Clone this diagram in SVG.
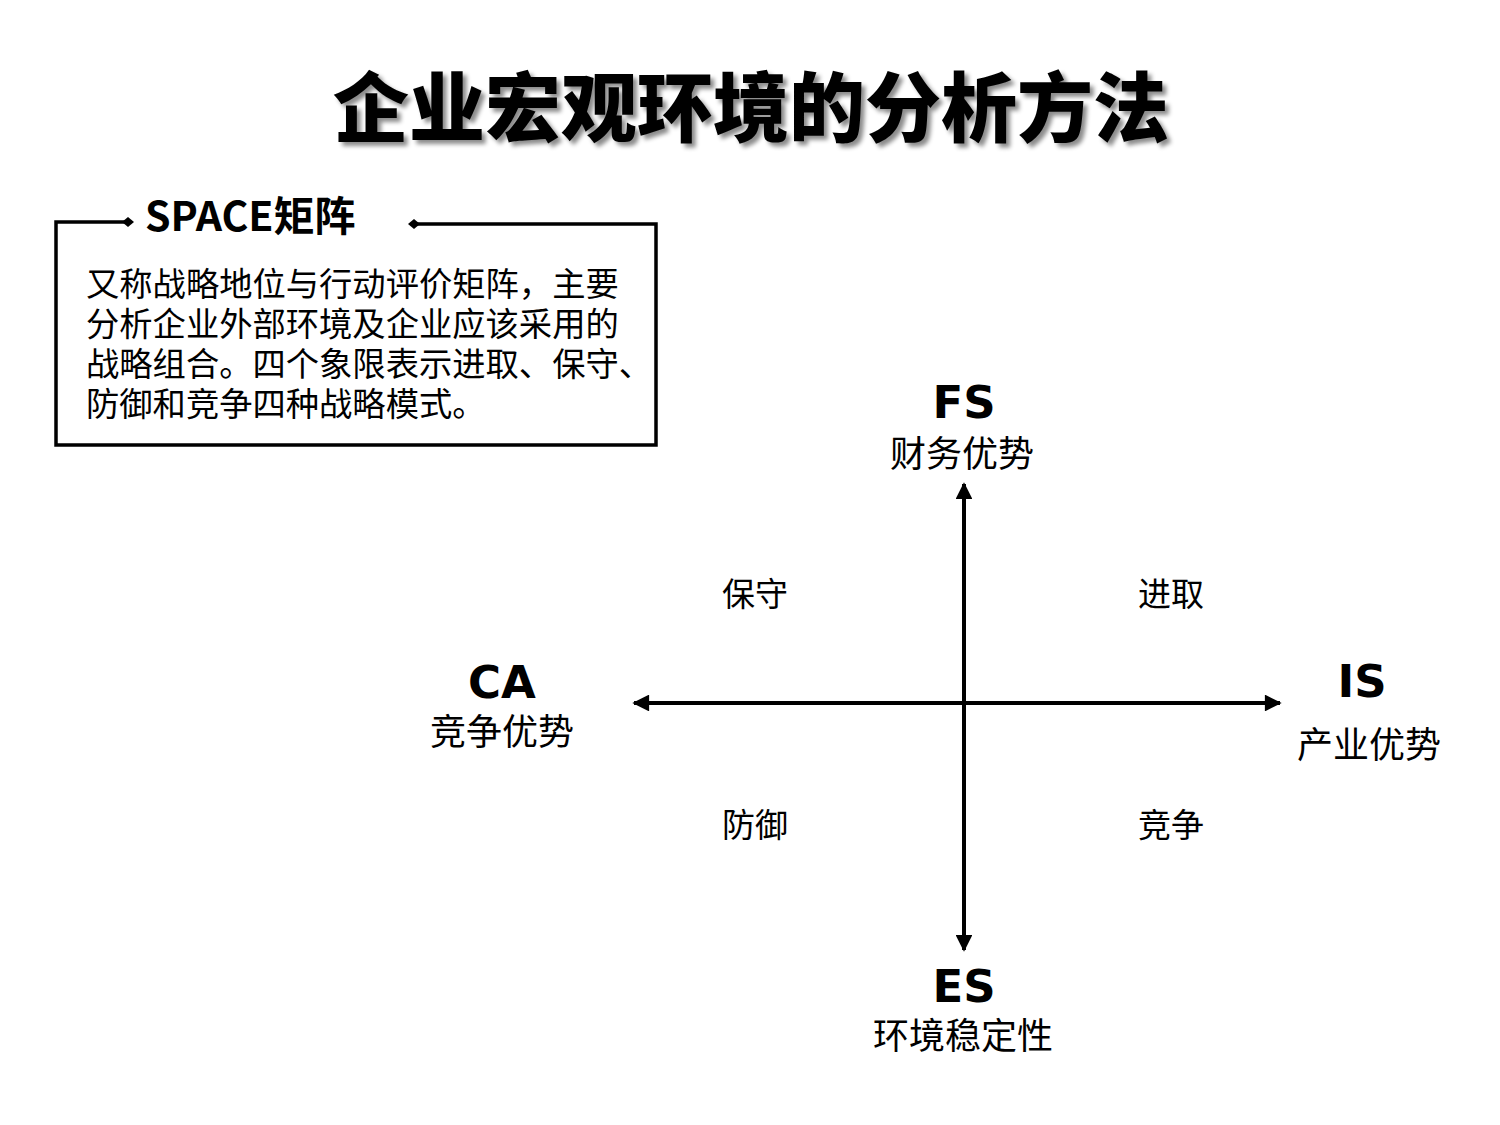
<svg xmlns="http://www.w3.org/2000/svg" width="1500" height="1125" viewBox="0 0 1500 1125">
<defs>
<style>
.cjk{font-family:"Noto Sans CJK SC","Noto Sans",sans-serif;fill:#000}
.lat{font-family:"DejaVu Sans","Noto Sans CJK SC",sans-serif;font-weight:bold;fill:#000}
.ax{stroke:#000;stroke-width:4;fill:none}
.frame{stroke:#000;stroke-width:3.5;fill:none}
</style>
<marker id="ah" viewBox="0 0 10 10" refX="9" refY="5" markerWidth="6" markerHeight="4.2" markerUnits="strokeWidth" orient="auto-start-reverse">
<path d="M0,0 L10,5 L0,10 z" fill="#000"/>
</marker>
<filter id="sh" x="-5%" y="-20%" width="110%" height="140%">
<feDropShadow dx="4" dy="4" stdDeviation="2" flood-color="#000" flood-opacity="0.45"/>
</filter>
</defs>
<rect width="1500" height="1125" fill="#fff"/>
<g id="title">
<text x="751" y="136" text-anchor="middle" class="cjk" font-size="76" font-weight="900" filter="url(#sh)">企业宏观环境的分析方法</text>
</g>
<g id="space-box">
<path class="frame" d="M128,222 L56,222 L56,445 L656,445 L656,224 L414,224"/>
<path d="M122,222 L128,217 L134,222 L128,227 z" fill="#000"/>
<path d="M408,224 L414,219 L420,224 L414,229 z" fill="#000"/>
<text x="145" y="231" class="cjk" font-size="41" font-weight="bold">SPACE矩阵</text>
<text class="cjk" font-size="33.3" x="86">
<tspan x="86" y="296">又称战略地位与行动评价矩阵，主要</tspan>
<tspan x="86" y="336">分析企业外部环境及企业应该采用的</tspan>
<tspan x="86" y="376">战略组合。四个象限表示进取、保守、</tspan>
<tspan x="86" y="416">防御和竞争四种战略模式。</tspan>
</text>
</g>
<g id="connectors">
<line class="ax" x1="964" y1="950" x2="964" y2="484" marker-start="url(#ah)" marker-end="url(#ah)"/>
<line class="ax" x1="634" y1="703" x2="1280" y2="703" marker-start="url(#ah)" marker-end="url(#ah)"/>
</g>
<g id="node-FS">
<text x="964" y="418" text-anchor="middle" class="lat" font-size="45">FS</text>
<text x="962" y="467" text-anchor="middle" class="cjk" font-size="36">财务优势</text>
</g>
<g id="node-CA">
<text x="502" y="698" text-anchor="middle" class="lat" font-size="45">CA</text>
<text x="502" y="745" text-anchor="middle" class="cjk" font-size="36">竞争优势</text>
</g>
<g id="node-IS">
<text x="1362" y="697" text-anchor="middle" class="lat" font-size="45">IS</text>
<text x="1369" y="758" text-anchor="middle" class="cjk" font-size="36">产业优势</text>
</g>
<g id="node-ES">
<text x="964" y="1002" text-anchor="middle" class="lat" font-size="45">ES</text>
<text x="963" y="1049" text-anchor="middle" class="cjk" font-size="36">环境稳定性</text>
</g>
<g id="quadrants">
<text x="755" y="606" text-anchor="middle" class="cjk" font-size="33">保守</text>
<text x="1171" y="606" text-anchor="middle" class="cjk" font-size="33">进取</text>
<text x="755" y="837" text-anchor="middle" class="cjk" font-size="33">防御</text>
<text x="1171" y="837" text-anchor="middle" class="cjk" font-size="33">竞争</text>
</g>
</svg>
